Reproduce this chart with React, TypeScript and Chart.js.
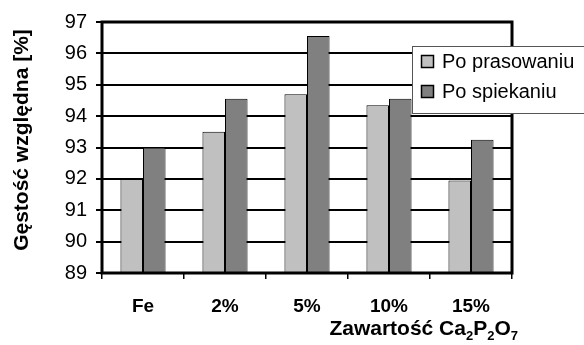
import React, { useEffect, useRef } from "react";
import { Chart, registerables } from "chart.js";

Chart.register(...registerables);

const categories = ["Fe", "2%", "5%", "10%", "15%"];
const seriesNames = ["Po prasowaniu", "Po spiekaniu"];
const poPrasowaniu = [92.0, 93.5, 94.7, 94.35, 91.95];
const poSpiekaniu = [93.0, 94.55, 96.55, 94.55, 93.25];
const seriesColors = ["#c0c0c0", "#808080"];
const yMin = 89;
const yMax = 97;
const yTitle = "Gęstość względna [%]";
const xTitleParts: { t: string; sub: boolean }[] = [
  { t: "Zawartość Ca", sub: false },
  { t: "2", sub: true },
  { t: "P", sub: false },
  { t: "2", sub: true },
  { t: "O", sub: false },
  { t: "7", sub: true },
];

const FONT = "'Liberation Sans', Arial, sans-serif";

const decorPlugin = {
  id: "decor",
  afterDatasetsDraw(chart: any) {
    const { ctx, chartArea: a } = chart;
    ctx.save();
    ctx.strokeStyle = "#000";
    ctx.lineWidth = 3;
    ctx.strokeRect(a.left, a.top, a.right - a.left, a.bottom - a.top);
    ctx.restore();
  },
  afterDraw(chart: any) {
    const { ctx, chartArea: a } = chart;
    ctx.save();
    // Y title
    ctx.fillStyle = "#000";
    ctx.font = `bold 21px ${FONT}`;
    ctx.textAlign = "center";
    ctx.textBaseline = "middle";
    ctx.translate(22, 140);
    ctx.rotate(-Math.PI / 2);
    ctx.fillText(yTitle, 0, 0);
    ctx.restore();

    // X title with subscripts
    ctx.save();
    ctx.fillStyle = "#000";
    ctx.textBaseline = "alphabetic";
    ctx.textAlign = "left";
    const mainFont = `bold 21px ${FONT}`;
    const subFont = `bold 13px ${FONT}`;
    let total = 0;
    for (const p of xTitleParts) {
      ctx.font = p.sub ? subFont : mainFont;
      total += ctx.measureText(p.t).width;
    }
    let x = a.right + 6 - total;
    const baseY = 335;
    for (const p of xTitleParts) {
      ctx.font = p.sub ? subFont : mainFont;
      ctx.fillText(p.t, x, p.sub ? baseY + 5 : baseY);
      x += ctx.measureText(p.t).width;
    }
    ctx.restore();

    // Legend
    ctx.save();
    const lx = a.right - 100;
    const ly = a.top + 24;
    const lh = 67;
    ctx.fillStyle = "#fff";
    ctx.fillRect(lx, ly, 300, lh);
    ctx.strokeStyle = "#555";
    ctx.lineWidth = 1;
    ctx.strokeRect(lx + 0.5, ly + 0.5, 300, lh);
    ctx.font = `20px ${FONT}`;
    ctx.textBaseline = "middle";
    ctx.textAlign = "left";
    chart.data.datasets.forEach((ds: any, i: number) => {
      const cy = ly + 16 + i * 30;
      ctx.fillStyle = ds.backgroundColor;
      ctx.fillRect(lx + 9.5, cy - 6.5, 12, 12);
      ctx.strokeStyle = "#000";
      ctx.lineWidth = 1.5;
      ctx.strokeRect(lx + 9.5, cy - 6.5, 12, 12);
      ctx.fillStyle = "#000";
      ctx.fillText(ds.label, lx + 30, cy);
    });
    ctx.restore();
  },
};

export default function App() {
  const ref = useRef<HTMLCanvasElement>(null);
  useEffect(() => {
    if (!ref.current) return;
    const chart = new Chart(ref.current, {
      type: "bar",
      data: {
        labels: categories,
        datasets: [
          {
            label: seriesNames[0],
            data: poPrasowaniu,
            backgroundColor: seriesColors[0],
            borderColor: "#000",
            borderWidth: 1,
            categoryPercentage: 0.55,
            barPercentage: 1.0,
          },
          {
            label: seriesNames[1],
            data: poSpiekaniu,
            backgroundColor: seriesColors[1],
            borderColor: "#000",
            borderWidth: 1,
            categoryPercentage: 0.55,
            barPercentage: 1.0,
          },
        ],
      },
      options: {
        animation: false,
        responsive: false,
        devicePixelRatio: 1,
        layout: { padding: { top: 22, right: 72, bottom: 0, left: 0 } },
        plugins: {
          legend: { display: false },
          tooltip: { enabled: false },
          title: { display: false },
        },
        scales: {
          x: {
            offset: true,
            grid: {
              display: true,
              drawOnChartArea: false,
              drawTicks: true,
              tickLength: 6,
              color: "#000",
              lineWidth: 1.5,
              offset: true,
            },
            border: { display: false },
            ticks: {
              color: "#000",
              font: { family: FONT, size: 19, weight: "bold" },
              padding: 16,
              maxRotation: 0,
            },
            afterFit: (s: any) => {
              s.height = 72;
            },
          },
          y: {
            min: yMin,
            max: yMax,
            grid: {
              color: "#000",
              lineWidth: 2,
              tickLength: 6,
            },
            border: { display: false },
            ticks: {
              stepSize: 1,
              color: "#000",
              font: { family: FONT, size: 20 },
              padding: 9,
            },
            afterFit: (s: any) => {
              s.width = 102;
            },
          },
        },
      },
      plugins: [decorPlugin],
    } as any);
    return () => chart.destroy();
  }, []);
  return (
    <div style={{ position: "absolute", left: 0, top: 0, width: 584, height: 345, background: "#fff" }}>
      <canvas ref={ref} width={584} height={345} />
    </div>
  );
}
